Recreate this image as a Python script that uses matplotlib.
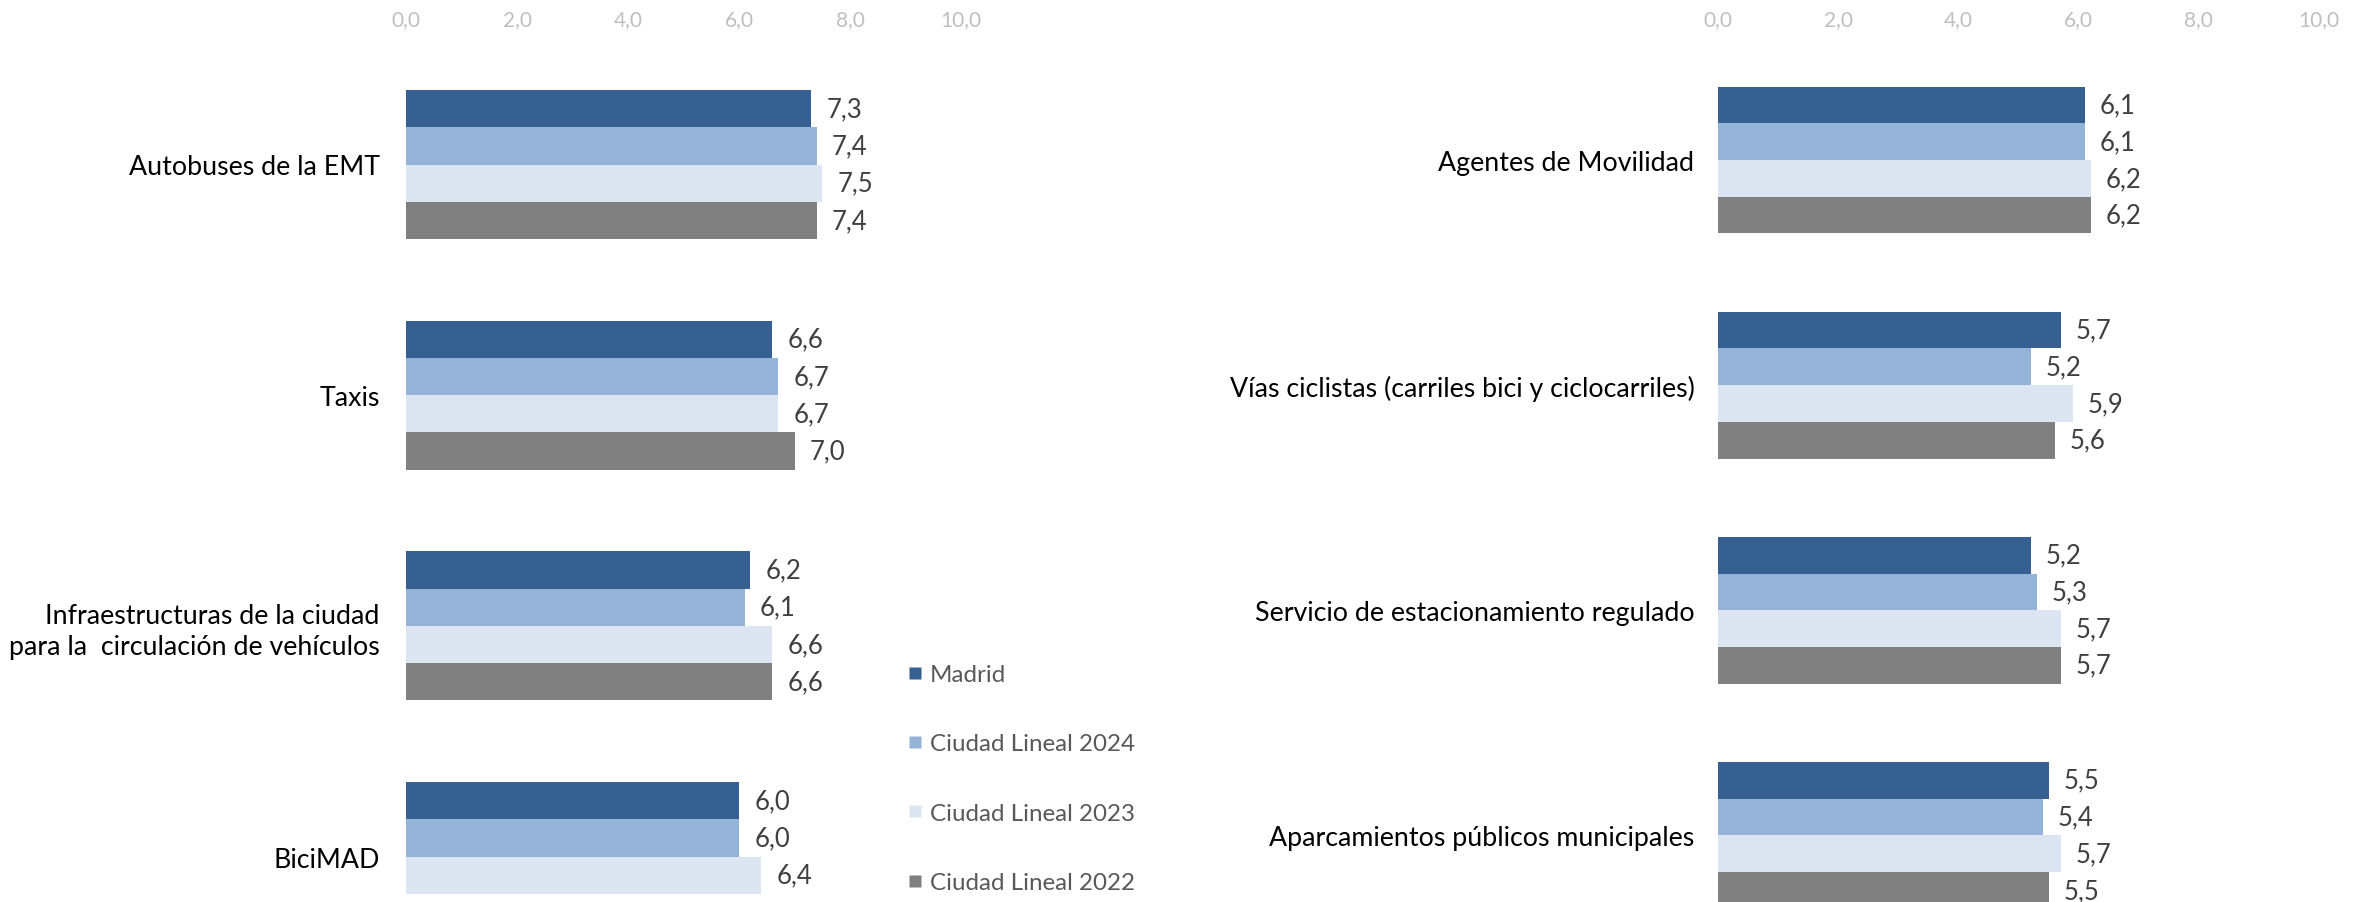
import matplotlib
matplotlib.use("Agg")
import matplotlib.pyplot as plt
from matplotlib.lines import Line2D
import numpy as np

plt.rcParams['font.family'] = ['Lato', 'DejaVu Sans']

series = ['Madrid', 'Ciudad Lineal 2024', 'Ciudad Lineal 2023', 'Ciudad Lineal 2022']
colors = ['#376092', '#95b3d7', '#dce6f2', '#808080']

left_categories = ['Autobuses de la EMT', 'Taxis',
                   'Infraestructuras de la ciudad\npara la  circulación de vehículos',
                   'BiciMAD']
left_madrid = [7.3, 6.6, 6.2, 6.0]
left_cl2024 = [7.4, 6.7, 6.1, 6.0]
left_cl2023 = [7.5, 6.7, 6.6, 6.4]
left_cl2022 = [7.4, 7.0, 6.6, np.nan]  # ultimo valor fuera de la imagen

right_categories = ['Agentes de Movilidad',
                    'Vías ciclistas (carriles bici y ciclocarriles)',
                    'Servicio de estacionamiento regulado',
                    'Aparcamientos públicos municipales']
right_madrid = [6.1, 5.7, 5.2, 5.5]
right_cl2024 = [6.1, 5.2, 5.3, 5.4]
right_cl2023 = [6.2, 5.9, 5.7, 5.7]
right_cl2022 = [6.2, 5.6, 5.7, 5.5]

ticks = [0, 2, 4, 6, 8, 10]

W, H = 2369, 903
fig = plt.figure(figsize=(W / 100, H / 100), dpi=100)


def make_panel(x0, x1, first_center, spacing, bar_px, cats, values, label_pad):
    top_px = 45
    ax = fig.add_axes([x0 / W, 0, (x1 - x0) / W, (H - top_px) / H])
    y_top = (top_px - first_center) / spacing
    y_bot = (H - first_center) / spacing
    h = bar_px / spacing
    pos = np.arange(len(cats))
    for k, (vals, col) in enumerate(zip(values, colors)):
        vals = np.array(vals, dtype=float)
        ok = ~np.isnan(vals)
        yy = pos[ok] + (k - 1.5) * h
        bars = ax.barh(yy, vals[ok], height=h, color=col, edgecolor='none')
        ax.bar_label(bars, labels=[f"{v:.1f}".replace('.', ',') for v in vals[ok]],
                     padding=11, fontsize=18.5, color='#404040')
    ax.set_xlim(0, 10)
    ax.set_ylim(y_bot, y_top)
    ax.set_yticks(pos)
    ax.set_yticklabels(cats, fontsize=19.3, color='black', ha='right', linespacing=1.3)
    ax.set_xticks(ticks)
    ax.set_xticklabels([f"{t:.1f}".replace('.', ',') for t in ticks], fontsize=15, color='#bfbfbf')
    ax.xaxis.tick_top()
    ax.tick_params(axis='x', length=0, pad=11)
    ax.tick_params(axis='y', length=0, pad=label_pad)
    for s in ax.spines.values():
        s.set_visible(False)
    ax.set_facecolor('none')
    return ax


make_panel(406, 961, 165.5, 230.7, 37.3, left_categories,
           [left_madrid, left_cl2024, left_cl2023, left_cl2022], 19)
make_panel(1718, 2319, 161, 225.1, 36.7, right_categories,
           [right_madrid, right_cl2024, right_cl2023, right_cl2022], 17)

handles = [Line2D([0], [0], marker='s', linestyle='none', markersize=9,
                  markerfacecolor=c, markeredgecolor='none') for c in colors]
fig.legend(handles, series, loc='upper left', bbox_to_anchor=(908 / W, 1 - 665 / H),
           frameon=False, fontsize=17.4, labelcolor='#595959', labelspacing=2.0,
           handlelength=0.6, handletextpad=0.3, borderaxespad=0, borderpad=0)

fig.savefig('out.png', dpi=100, facecolor='white')
